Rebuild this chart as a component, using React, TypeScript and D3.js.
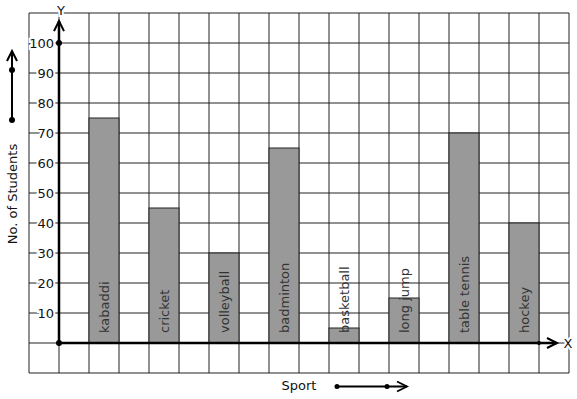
import React, { useEffect } from 'react';
import * as d3 from 'd3';

const sports = ['kabaddi', 'cricket', 'volleyball', 'badminton', 'basketball', 'long jump', 'table tennis', 'hockey'];
const students = [75, 45, 30, 65, 5, 15, 70, 40];
const yTicks = [10, 20, 30, 40, 50, 60, 70, 80, 90, 100];

const W = 577;
const H = 399;
const FONT = 'DejaVu Sans, sans-serif';

export default function App() {
  useEffect(() => {
    document.body.style.margin = '0';
  }, []);

  // one grid unit = one column; column 0 is the y axis
  const gx = d3.scaleLinear().domain([-1, 17]).range([29, 569]);
  const y = d3.scaleLinear().domain([0, 100]).range([343, 43]);

  const cols = d3.range(-1, 18);
  const rows = d3.range(-10, 111, 10);

  const x0 = gx(0);
  const y0 = y(0);
  const xEnd = gx(16.6);
  const yTop = y(107.3);

  const chevron = (ax: number, ay: number, dir: 'up' | 'right') =>
    dir === 'up'
      ? `M${ax - 5},${ay + 10}L${ax},${ay}L${ax + 5},${ay + 10}`
      : `M${ax - 10},${ay - 5}L${ax},${ay}L${ax - 10},${ay + 5}`;

  const halo = { stroke: '#fff', strokeWidth: 4, paintOrder: 'stroke' as const };

  return (
    <svg width={W} height={H} style={{ display: 'block', background: '#fff' }} fontFamily={FONT}>
      <g stroke="#222" strokeWidth={1}>
        {cols.map((c) => (
          <line key={'c' + c} x1={gx(c)} x2={gx(c)} y1={y(110)} y2={y(-10)} />
        ))}
        {rows.map((r) => (
          <line key={'r' + r} x1={gx(-1)} x2={gx(17)} y1={y(r)} y2={y(r)} />
        ))}
      </g>

      {sports.map((s, i) => {
        const left = gx(1 + 2 * i);
        const right = gx(2 + 2 * i);
        return (
          <g key={s}>
            <rect x={left} y={y(students[i])} width={right - left} height={y0 - y(students[i])}
              fill="#999" stroke="#222" strokeWidth={1} />
            <text transform={`translate(${(left + right) / 2 + 5},${y0 - 10}) rotate(-90)`}
              fontSize={13} fill="#333">{s}</text>
          </g>
        );
      })}

      {yTicks.map((t) => (
        <text key={t} x={54} y={y(t)} dy="0.35em" textAnchor="end" fontSize={13} fill="#111" {...halo}>{t}</text>
      ))}

      <g stroke="#000" fill="none">
        <line x1={x0} x2={x0} y1={y0} y2={yTop} strokeWidth={2.5} />
        <line x1={x0} x2={xEnd} y1={y0} y2={y0} strokeWidth={2.5} />
        <path d={chevron(x0, yTop, 'up')} strokeWidth={2} />
        <path d={chevron(xEnd, y0, 'right')} strokeWidth={2} />
        <line x1={12} x2={12} y1={120} y2={51} strokeWidth={2} />
        <path d={chevron(12, 51, 'up')} strokeWidth={2} />
        <line x1={337} x2={407} y1={386.5} y2={386.5} strokeWidth={1.8} />
        <path d={chevron(407, 386.5, 'right')} strokeWidth={1.8} />
      </g>
      <g fill="#000">
        <circle cx={x0} cy={y0} r={3} />
        <circle cx={x0} cy={y(100)} r={3} />
        <circle cx={gx(16)} cy={y0} r={2} />
        <circle cx={12} cy={120} r={3} />
        <circle cx={12} cy={70} r={3} />
        <circle cx={337} cy={386.5} r={2.5} />
        <circle cx={387} cy={386.5} r={2.5} />
      </g>

      <text x={61} y={10} dy="0.35em" textAnchor="middle" fontSize={13} fill="#111" {...halo}>Y</text>
      <text x={568} y={y0} dy="0.35em" textAnchor="middle" fontSize={13} fill="#111" {...halo}>X</text>
      <text x={299} y={385} dy="0.35em" textAnchor="middle" fontSize={13} fill="#111">Sport</text>
      <text transform={`translate(12,194) rotate(-90)`} dy="0.35em" textAnchor="middle" fontSize={13} fill="#111">No. of Students</text>
    </svg>
  );
}
